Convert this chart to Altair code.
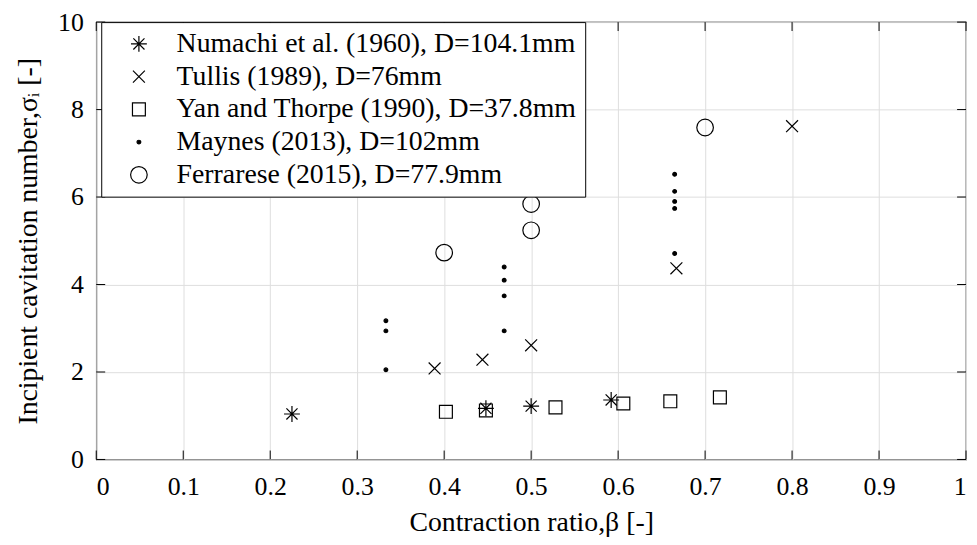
import altair as alt
import pandas as pd

series_names = [
    "Numachi et al. (1960), D=104.1mm",
    "Tullis (1989), D=76mm",
    "Yan and Thorpe (1990), D=37.8mm",
    "Maynes (2013), D=102mm",
    "Ferrarese (2015), D=77.9mm",
]

numachi_x = [0.225, 0.448, 0.500, 0.592]
numachi_y = [1.04, 1.17, 1.22, 1.36]

tullis_x = [0.389, 0.444, 0.500, 0.667, 0.800]
tullis_y = [2.08, 2.28, 2.61, 4.37, 7.62]

yan_x = [0.402, 0.448, 0.528, 0.606, 0.660, 0.717]
yan_y = [1.09, 1.12, 1.19, 1.28, 1.33, 1.42]

maynes_x = [0.333, 0.333, 0.333, 0.469, 0.469, 0.469, 0.469, 0.665, 0.665, 0.665, 0.665, 0.665]
maynes_y = [2.05, 2.94, 3.17, 2.94, 3.74, 4.10, 4.40, 4.71, 5.74, 5.90, 6.13, 6.52]

ferrarese_x = [0.400, 0.500, 0.500, 0.700]
ferrarese_y = [4.73, 5.24, 5.84, 7.59]

x_ticks = [0, 0.1, 0.2, 0.3, 0.4, 0.5, 0.6, 0.7, 0.8, 0.9, 1.0]
y_ticks = [0, 2, 4, 6, 8, 10]

rows = []
for name, xs, ys in zip(series_names,
                        [numachi_x, tullis_x, yan_x, maynes_x, ferrarese_x],
                        [numachi_y, tullis_y, yan_y, maynes_y, ferrarese_y]):
    for a, b in zip(xs, ys):
        rows.append({"series": name, "beta": a, "sigma": b})
df = pd.DataFrame(rows)

W, H = 877, 441
FONT = "Liberation Serif"

asterisk = "M-1,0L1,0M0,-1L0,1M-0.7,-0.7L0.7,0.7M-0.7,0.7L0.7,-0.7"
xmark = "M-1,-1L1,1M-1,1L1,-1"

xscale = alt.Scale(domain=[0, 1], nice=False, zero=False)
yscale = alt.Scale(domain=[0, 10], nice=False, zero=False)

points = alt.Chart(df).mark_point(strokeWidth=1.2, opacity=1).encode(
    x=alt.X("beta:Q", scale=xscale,
            axis=alt.Axis(values=x_ticks, labelExpr="format(datum.value, '.1~f')",
                          title="Contraction ratio,β [-]",
                          grid=True, domain=False, ticks=False, tickSize=0,
                          labelPadding=14, titlePadding=10)),
    y=alt.Y("sigma:Q", scale=yscale,
            axis=alt.Axis(values=y_ticks, format="d", title="Incipient cavitation number,σᵢ [-]",
                          grid=True, domain=False, ticks=False, tickSize=0,
                          labelPadding=13, titlePadding=15)),
    shape=alt.Shape("series:N", scale=alt.Scale(domain=series_names,
                    range=[asterisk, xmark, "square", "circle", "circle"]),
                    legend=alt.Legend(title=None, orient="none", legendX=5, legendY=0)),
    size=alt.Size("series:N", scale=alt.Scale(type="ordinal", domain=series_names,
                  range=[256, 144, 169, 14, 280])),
    fill=alt.Fill("series:N", scale=alt.Scale(domain=series_names,
                  range=["transparent", "transparent", "transparent", "black", "transparent"])),
    stroke=alt.Stroke("series:N", scale=alt.Scale(domain=series_names,
                  range=["black", "black", "black", "black", "black"])),
)

xt = pd.DataFrame({"t": x_ticks})
yt = pd.DataFrame({"t": y_ticks})
TL = 9
bottom_ticks = alt.Chart(xt).mark_rule(color="black", strokeWidth=1).encode(
    x=alt.X("t:Q", scale=xscale), y=alt.value(H), y2=alt.value(H - TL))
top_ticks = alt.Chart(xt).mark_rule(color="black", strokeWidth=1).encode(
    x=alt.X("t:Q", scale=xscale), y=alt.value(0), y2=alt.value(TL))
left_ticks = alt.Chart(yt).mark_rule(color="black", strokeWidth=1).encode(
    y=alt.Y("t:Q", scale=yscale), x=alt.value(0), x2=alt.value(TL))
right_ticks = alt.Chart(yt).mark_rule(color="black", strokeWidth=1).encode(
    y=alt.Y("t:Q", scale=yscale), x=alt.value(W), x2=alt.value(W - TL))

chart = alt.layer(bottom_ticks, top_ticks, left_ticks, right_ticks, points).properties(
    width=W, height=H,
    autosize=alt.AutoSizeParams(type="none"),
    padding={"left": 89, "top": 12, "right": 3, "bottom": 80},
).configure_view(
    stroke="black", strokeWidth=1.2
).configure_axis(
    labelFont=FONT, titleFont=FONT, labelFontSize=26, titleFontSize=28,
    labelColor="black", titleColor="black", titleFontWeight="normal",
    gridColor="#dedede", gridWidth=1,
).configure_legend(
    labelFont=FONT, labelFontSize=28, labelColor="black", labelLimit=700,
    strokeColor="black", fillColor="white", padding=8, cornerRadius=0,
    symbolStrokeWidth=1.2, symbolOffset=16, labelOffset=24, rowPadding=5,
)

chart.save("out.html", embed_options={"renderer": "svg", "actions": False})
